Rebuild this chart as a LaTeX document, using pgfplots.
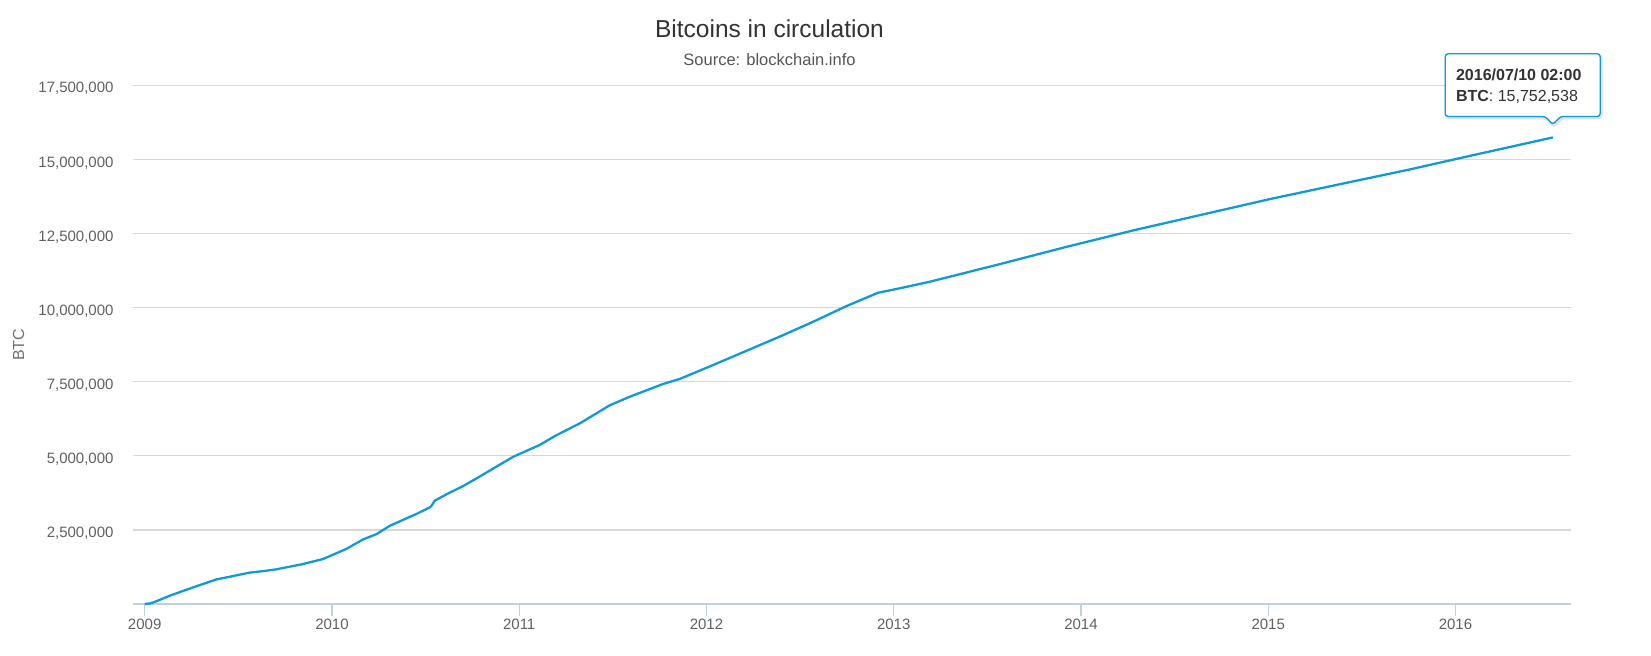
\documentclass[border=0pt]{standalone}
\usepackage{fontspec}
\setmainfont{Liberation Sans}
\usepackage{pgfplots}
\pgfplotsset{compat=1.18}
\definecolor{linecol}{HTML}{109AD6}
\definecolor{gridcol}{HTML}{D8D8D8}
\definecolor{axiscol}{HTML}{C0D0E0}
\definecolor{labcol}{HTML}{606060}
\definecolor{titlecol}{HTML}{333333}
\definecolor{subcol}{HTML}{555555}
\definecolor{ylabcol}{HTML}{707070}
\pgfplotstableread{
year btc
2009.000 0
2009.030 20000
2009.053 70000
2009.134 280000
2009.258 560000
2009.383 830000
2009.454 920000
2009.561 1060000
2009.632 1110000
2009.703 1170000
2009.846 1350000
2009.953 1520000
2010.077 1860000
2010.166 2180000
2010.238 2360000
2010.309 2640000
2010.380 2840000
2010.451 3040000
2010.522 3260000
2010.531 3310000
2010.549 3490000
2010.629 3760000
2010.700 3980000
2010.772 4240000
2010.879 4640000
2010.968 4970000
2011.056 5220000
2011.110 5370000
2011.190 5670000
2011.324 6100000
2011.484 6710000
2011.591 7000000
2011.769 7430000
2011.858 7600000
2012.036 8070000
2012.214 8550000
2012.392 9030000
2012.570 9530000
2012.748 10060000
2012.917 10510000
2013.033 10660000
2013.185 10870000
2013.551 11450000
2013.917 12050000
2014.283 12620000
2014.649 13150000
2015.015 13680000
2015.380 14170000
2015.747 14660000
2016.112 15180000
2016.520 15752538
}\btcdata
\begin{document}
\begin{tikzpicture}
\useasboundingbox (0,0) rectangle (1651bp,656bp);
\begin{axis}[
  at={(132.7bp,52bp)}, anchor=south west,
  scale only axis, width=1438.3bp, height=518.3bp,
  xmin=2008.936, xmax=2016.617, ymin=0, ymax=17500000,
  scaled y ticks=false, scaled x ticks=false,
  axis x line*=bottom, axis y line*=left,
  x axis line style={draw=axiscol, line width=1.2bp, -},
  y axis line style={draw=none},
  xtick={2009,2010,2011,2012,2013,2014,2015,2016},
  xticklabels={2009,2010,2011,2012,2013,2014,2015,2016},
  ytick={2500000,5000000,7500000,10000000,12500000,15000000,17500000},
  yticklabels={{2,500,000},{5,000,000},{7,500,000},{10,000,000},{12,500,000},{15,000,000},{17,500,000}},
  tick align=outside, major tick length=12bp,
  xtick style={draw=axiscol, line width=1.2bp},
  ytick style={draw=none},
  ymajorgrids, grid style={draw=gridcol, line width=1.1bp},
  ticklabel style={font=\fontsize{15bp}{18bp}\selectfont, color=labcol, inner sep=0pt},
  xticklabel style={anchor=north, yshift=-3bp},
  yticklabel style={anchor=east, xshift=-7bp, yshift=-3bp},
  ylabel={BTC},
  every axis y label/.style={at={(axis description cs:-0.0793,0.5)}, rotate=90, anchor=center, font=\fontsize{16bp}{19bp}\selectfont, color=ylabcol},
  clip=false,
]
\addplot[linecol, line width=2.3bp, line join=round] table[x=year, y=btc] {\btcdata};
\coordinate (P) at (axis cs:2016.52,15752538);
\end{axis}
\node[anchor=base, font=\fontsize{24.5bp}{29bp}\selectfont, color=titlecol, inner sep=0pt] at (769.5bp,618.7bp) {Bitcoins in circulation};
\node[anchor=base, font=\fontsize{16.5bp}{20bp}\selectfont, color=subcol, inner sep=0pt] at (769.5bp,590.3bp) {Source: blockchain.info};
\begin{scope}[shift={(P)}]
\draw[black, opacity=0.12, line width=3bp, rounded corners=3bp, shift={(1bp,-1.5bp)}]
  (-107.7bp,21bp) -- (-7.5bp,21bp) -- (0bp,12.7bp) -- (7.5bp,21bp) -- (47.3bp,21bp) -- (47.3bp,83.7bp) -- (-107.7bp,83.7bp) -- cycle;
\draw[linecol, line width=1.3bp, fill=white, rounded corners=3bp]
  (-107.7bp,21bp) -- (-7.5bp,21bp) -- (0bp,12.7bp) -- (7.5bp,21bp) -- (47.3bp,21bp) -- (47.3bp,83.7bp) -- (-107.7bp,83.7bp) -- cycle;
\node[anchor=base west, inner sep=0pt, font=\fontsize{16bp}{19bp}\selectfont\bfseries, color=titlecol] at (-97bp,57bp) {2016/07/10 02:00};
\node[anchor=base west, inner sep=0pt, font=\fontsize{16bp}{19bp}\selectfont, color=titlecol] at (-97bp,36bp) {\textbf{BTC}: 15,752,538};
\end{scope}
\end{tikzpicture}
\end{document}
